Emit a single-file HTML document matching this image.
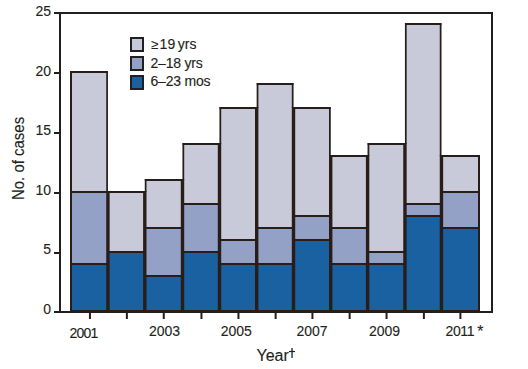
<!DOCTYPE html>
<html><head><meta charset="utf-8"><style>
html,body{margin:0;padding:0;background:#fff;width:528px;height:369px;overflow:hidden}
svg{position:absolute;left:0;top:0}
text{stroke:#231f20;stroke-width:0.12}
</style></head><body>
<svg width="528" height="369" viewBox="0 0 528 369">
<rect x="71.00" y="72.00" width="36.93" height="120.00" fill="#c8cad9"/>
<rect x="71.00" y="192.00" width="36.93" height="72.00" fill="#94a1c6"/>
<rect x="71.00" y="264.00" width="36.93" height="48.00" fill="#1961a1"/>
<rect x="107.93" y="192.00" width="36.87" height="60.00" fill="#c8cad9"/>
<rect x="107.93" y="252.00" width="36.87" height="0.00" fill="#94a1c6"/>
<rect x="107.93" y="252.00" width="36.87" height="60.00" fill="#1961a1"/>
<rect x="144.80" y="180.00" width="37.70" height="48.00" fill="#c8cad9"/>
<rect x="144.80" y="228.00" width="37.70" height="48.00" fill="#94a1c6"/>
<rect x="144.80" y="276.00" width="37.70" height="36.00" fill="#1961a1"/>
<rect x="182.50" y="144.00" width="37.00" height="60.00" fill="#c8cad9"/>
<rect x="182.50" y="204.00" width="37.00" height="48.00" fill="#94a1c6"/>
<rect x="182.50" y="252.00" width="37.00" height="60.00" fill="#1961a1"/>
<rect x="219.50" y="108.00" width="37.20" height="132.00" fill="#c8cad9"/>
<rect x="219.50" y="240.00" width="37.20" height="24.00" fill="#94a1c6"/>
<rect x="219.50" y="264.00" width="37.20" height="48.00" fill="#1961a1"/>
<rect x="256.70" y="84.00" width="36.80" height="144.00" fill="#c8cad9"/>
<rect x="256.70" y="228.00" width="36.80" height="36.00" fill="#94a1c6"/>
<rect x="256.70" y="264.00" width="36.80" height="48.00" fill="#1961a1"/>
<rect x="293.50" y="108.00" width="37.20" height="108.00" fill="#c8cad9"/>
<rect x="293.50" y="216.00" width="37.20" height="24.00" fill="#94a1c6"/>
<rect x="293.50" y="240.00" width="37.20" height="72.00" fill="#1961a1"/>
<rect x="330.70" y="156.00" width="36.90" height="72.00" fill="#c8cad9"/>
<rect x="330.70" y="228.00" width="36.90" height="36.00" fill="#94a1c6"/>
<rect x="330.70" y="264.00" width="36.90" height="48.00" fill="#1961a1"/>
<rect x="367.60" y="144.00" width="37.35" height="108.00" fill="#c8cad9"/>
<rect x="367.60" y="252.00" width="37.35" height="12.00" fill="#94a1c6"/>
<rect x="367.60" y="264.00" width="37.35" height="48.00" fill="#1961a1"/>
<rect x="404.95" y="24.00" width="36.50" height="180.00" fill="#c8cad9"/>
<rect x="404.95" y="204.00" width="36.50" height="12.00" fill="#94a1c6"/>
<rect x="404.95" y="216.00" width="36.50" height="96.00" fill="#1961a1"/>
<rect x="441.45" y="156.00" width="37.55" height="36.00" fill="#c8cad9"/>
<rect x="441.45" y="192.00" width="37.55" height="36.00" fill="#94a1c6"/>
<rect x="441.45" y="228.00" width="37.55" height="84.00" fill="#1961a1"/>
<rect x="70.00" y="263.00" width="37.93" height="2.00" fill="#281d18"/>
<rect x="70.00" y="191.00" width="37.93" height="2.00" fill="#281d18"/>
<rect x="70.00" y="71.00" width="37.93" height="2.00" fill="#281d18"/>
<rect x="107.93" y="251.00" width="36.87" height="2.00" fill="#281d18"/>
<rect x="107.93" y="191.00" width="36.87" height="2.00" fill="#281d18"/>
<rect x="144.80" y="275.00" width="37.70" height="2.00" fill="#281d18"/>
<rect x="144.80" y="227.00" width="37.70" height="2.00" fill="#281d18"/>
<rect x="144.80" y="179.00" width="37.70" height="2.00" fill="#281d18"/>
<rect x="182.50" y="251.00" width="37.00" height="2.00" fill="#281d18"/>
<rect x="182.50" y="203.00" width="37.00" height="2.00" fill="#281d18"/>
<rect x="182.50" y="143.00" width="37.00" height="2.00" fill="#281d18"/>
<rect x="219.50" y="263.00" width="37.20" height="2.00" fill="#281d18"/>
<rect x="219.50" y="239.00" width="37.20" height="2.00" fill="#281d18"/>
<rect x="219.50" y="107.00" width="37.20" height="2.00" fill="#281d18"/>
<rect x="256.70" y="263.00" width="36.80" height="2.00" fill="#281d18"/>
<rect x="256.70" y="227.00" width="36.80" height="2.00" fill="#281d18"/>
<rect x="256.70" y="83.00" width="36.80" height="2.00" fill="#281d18"/>
<rect x="293.50" y="239.00" width="37.20" height="2.00" fill="#281d18"/>
<rect x="293.50" y="215.00" width="37.20" height="2.00" fill="#281d18"/>
<rect x="293.50" y="107.00" width="37.20" height="2.00" fill="#281d18"/>
<rect x="330.70" y="263.00" width="36.90" height="2.00" fill="#281d18"/>
<rect x="330.70" y="227.00" width="36.90" height="2.00" fill="#281d18"/>
<rect x="330.70" y="155.00" width="36.90" height="2.00" fill="#281d18"/>
<rect x="367.60" y="263.00" width="37.35" height="2.00" fill="#281d18"/>
<rect x="367.60" y="251.00" width="37.35" height="2.00" fill="#281d18"/>
<rect x="367.60" y="143.00" width="37.35" height="2.00" fill="#281d18"/>
<rect x="404.95" y="215.00" width="36.50" height="2.00" fill="#281d18"/>
<rect x="404.95" y="203.00" width="36.50" height="2.00" fill="#281d18"/>
<rect x="404.95" y="23.00" width="36.50" height="2.00" fill="#281d18"/>
<rect x="441.45" y="227.00" width="38.55" height="2.00" fill="#281d18"/>
<rect x="441.45" y="191.00" width="38.55" height="2.00" fill="#281d18"/>
<rect x="441.45" y="155.00" width="38.55" height="2.00" fill="#281d18"/>
<rect x="70.00" y="310.00" width="410.00" height="2.00" fill="#281d18"/>
<rect x="70.00" y="71.00" width="2.00" height="242.00" fill="#281d18"/>
<rect x="478.00" y="155.00" width="2.00" height="158.00" fill="#281d18"/>
<rect x="106.23" y="191.00" width="3.40" height="122.00" fill="#281d18"/>
<rect x="106.23" y="71.00" width="1.70" height="121.00" fill="#281d18"/>
<rect x="143.10" y="191.00" width="3.40" height="122.00" fill="#281d18"/>
<rect x="144.80" y="179.00" width="1.70" height="13.00" fill="#281d18"/>
<rect x="180.80" y="179.00" width="3.40" height="134.00" fill="#281d18"/>
<rect x="182.50" y="143.00" width="1.70" height="37.00" fill="#281d18"/>
<rect x="217.80" y="143.00" width="3.40" height="170.00" fill="#281d18"/>
<rect x="219.50" y="107.00" width="1.70" height="37.00" fill="#281d18"/>
<rect x="255.00" y="107.00" width="3.40" height="206.00" fill="#281d18"/>
<rect x="256.70" y="83.00" width="1.70" height="25.00" fill="#281d18"/>
<rect x="291.80" y="107.00" width="3.40" height="206.00" fill="#281d18"/>
<rect x="291.80" y="83.00" width="1.70" height="25.00" fill="#281d18"/>
<rect x="329.00" y="155.00" width="3.40" height="158.00" fill="#281d18"/>
<rect x="329.00" y="107.00" width="1.70" height="49.00" fill="#281d18"/>
<rect x="365.90" y="155.00" width="3.40" height="158.00" fill="#281d18"/>
<rect x="367.60" y="143.00" width="1.70" height="13.00" fill="#281d18"/>
<rect x="403.25" y="143.00" width="3.40" height="170.00" fill="#281d18"/>
<rect x="404.95" y="23.00" width="1.70" height="121.00" fill="#281d18"/>
<rect x="439.75" y="155.00" width="3.40" height="158.00" fill="#281d18"/>
<rect x="439.75" y="23.00" width="1.70" height="133.00" fill="#281d18"/>
<rect x="59.00" y="12.00" width="2.00" height="301.00" fill="#231f20"/>
<rect x="491.00" y="12.00" width="2.00" height="301.00" fill="#231f20"/>
<rect x="54.00" y="12.00" width="439.00" height="2.00" fill="#231f20"/>
<rect x="54.00" y="311.00" width="439.00" height="2.00" fill="#231f20"/>
<rect x="54.00" y="252.00" width="5.00" height="2.00" fill="#231f20"/>
<rect x="54.00" y="192.00" width="5.00" height="2.00" fill="#231f20"/>
<rect x="54.00" y="132.00" width="5.00" height="2.00" fill="#231f20"/>
<rect x="54.00" y="72.00" width="5.00" height="2.00" fill="#231f20"/>
<rect x="88.95" y="313.00" width="2.00" height="6.00" fill="#231f20"/>
<rect x="125.88" y="313.00" width="2.00" height="6.00" fill="#231f20"/>
<rect x="162.75" y="313.00" width="2.00" height="6.00" fill="#231f20"/>
<rect x="200.45" y="313.00" width="2.00" height="6.00" fill="#231f20"/>
<rect x="237.45" y="313.00" width="2.00" height="6.00" fill="#231f20"/>
<rect x="274.64" y="313.00" width="2.00" height="6.00" fill="#231f20"/>
<rect x="311.44" y="313.00" width="2.00" height="6.00" fill="#231f20"/>
<rect x="348.64" y="313.00" width="2.00" height="6.00" fill="#231f20"/>
<rect x="385.55" y="313.00" width="2.00" height="6.00" fill="#231f20"/>
<rect x="422.89" y="313.00" width="2.00" height="6.00" fill="#231f20"/>
<rect x="459.39" y="313.00" width="2.00" height="6.00" fill="#231f20"/>
</svg>
<svg width="528" height="369" viewBox="0 0 528 369" style="font-family:'Liberation Sans',sans-serif" fill="#231f20">
<text x="51" y="15.9" font-size="14" text-anchor="end">25</text>
<text x="51" y="75.6" font-size="14" text-anchor="end">20</text>
<text x="51" y="134.9" font-size="14" text-anchor="end">15</text>
<text x="51" y="194.9" font-size="14" text-anchor="end">10</text>
<text x="51" y="254" font-size="14" text-anchor="end">5</text>
<text x="51" y="313.9" font-size="14" text-anchor="end">0</text>
<text x="69.55" y="337.8" font-size="14" letter-spacing="-0.8">2001</text>
<text x="148.9" y="335.9" font-size="14" letter-spacing="0">2003</text>
<text x="220.70000000000002" y="335.9" font-size="14" letter-spacing="0">2005</text>
<text x="296.40000000000003" y="335.9" font-size="14" letter-spacing="0">2007</text>
<text x="369.0" y="335.9" font-size="14" letter-spacing="0">2009</text>
<text x="445.55" y="335.9" font-size="14" letter-spacing="-0.4">2011</text>
<text x="477.2" y="336.5" font-size="16">*</text>
<text x="256.5" y="360.8" font-size="16">Year</text>
<rect x="291.4" y="348" width="1.3" height="10" fill="#231f20"/><rect x="289" y="350.9" width="6" height="1.2" fill="#231f20"/>
<text transform="translate(23.9,200.1) rotate(-90) scale(1,1.12)" font-size="15">No. of cases</text>
<rect x="131" y="38" width="12" height="13" fill="#c8cad9" stroke="#231f20" stroke-width="2"/>
<text x="151" y="49" font-size="13.2">≥</text><text x="159.6" y="49.2" font-size="14">19</text><text x="177.8" y="49.2" font-size="14">yrs</text>
<rect x="131" y="57" width="12" height="13" fill="#94a1c6" stroke="#231f20" stroke-width="2"/>
<text x="150.5" y="67.8" font-size="14" letter-spacing="-0.22">2–18 yrs</text>
<rect x="131" y="76" width="12" height="13" fill="#1961a1" stroke="#231f20" stroke-width="2"/>
<text x="150.5" y="86.4" font-size="14" letter-spacing="-0.22">6–23 mos</text>
</svg>
</body></html>
